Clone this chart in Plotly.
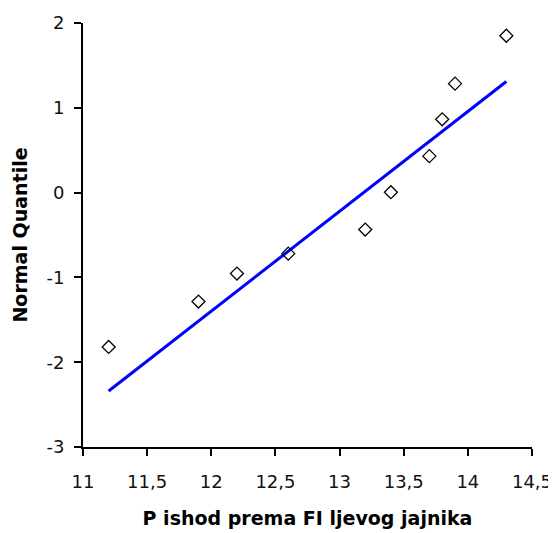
import plotly.graph_objects as go

# Observed data (x value, normal quantile)
obs_x = [11.2, 11.9, 12.2, 12.6, 13.2, 13.4, 13.7, 13.8, 13.9, 14.3]
obs_q = [-1.82, -1.285, -0.955, -0.72, -0.436, 0.005, 0.43, 0.864, 1.285, 1.85]

# Reference (fitted) line end points
line_x = [11.2, 14.3]
line_q = [-2.34, 1.31]

# Tick labels
x_tickvals = [11, 11.5, 12, 12.5, 13, 13.5, 14, 14.5]
x_ticktext = ["11", "11,5", "12", "12,5", "13", "13,5", "14", "14,5"]
y_tickvals = [-3, -2, -1, 0, 1, 2]
y_ticktext = ["-3", "-2", "-1", "0", "1", "2"]

FONT = "'DejaVu Sans', Verdana, sans-serif"

fig = go.Figure()
fig.add_trace(go.Scatter(
    x=line_x, y=line_q, mode="lines",
    line=dict(color="#0000ff", width=3),
    showlegend=False, hoverinfo="skip",
))
fig.add_trace(go.Scatter(
    x=obs_x, y=obs_q, mode="markers",
    marker=dict(symbol="diamond-open", size=10, color="black",
                line=dict(width=1.3, color="black")),
    showlegend=False,
))

# page body has an 8px default margin, so the figure is 8px smaller
fig.update_layout(
    width=548, height=525,
    margin=dict(l=75, r=24, t=15, b=86),
    paper_bgcolor="white", plot_bgcolor="white",
    font=dict(family=FONT, size=18, color="black"),
    xaxis=dict(
        range=[11, 14.5], tickvals=x_tickvals, ticktext=x_ticktext,
        showgrid=False, zeroline=False, showline=True,
        linecolor="black", linewidth=2,
        ticks="outside", ticklen=7, tickwidth=2, tickcolor="black",
        ticklabelstandoff=10, automargin=False,
        tickfont=dict(size=18, color="#111"),
        title=dict(text="<b>P ishod prema FI ljevog jajnika</b>",
                   font=dict(size=19, color="black"), standoff=21),
    ),
    yaxis=dict(
        range=[-3, 2], tickvals=y_tickvals, ticktext=y_ticktext,
        showgrid=False, zeroline=False, showline=True,
        linecolor="black", linewidth=2,
        ticks="outside", ticklen=7, tickwidth=2, tickcolor="black",
        ticklabelstandoff=6, automargin=False,
        tickfont=dict(size=18, color="#111"),
        title=dict(text="<b>Normal Quantile</b>",
                   font=dict(size=19, color="black"), standoff=14),
    ),
)

fig.write_html("out.html")
